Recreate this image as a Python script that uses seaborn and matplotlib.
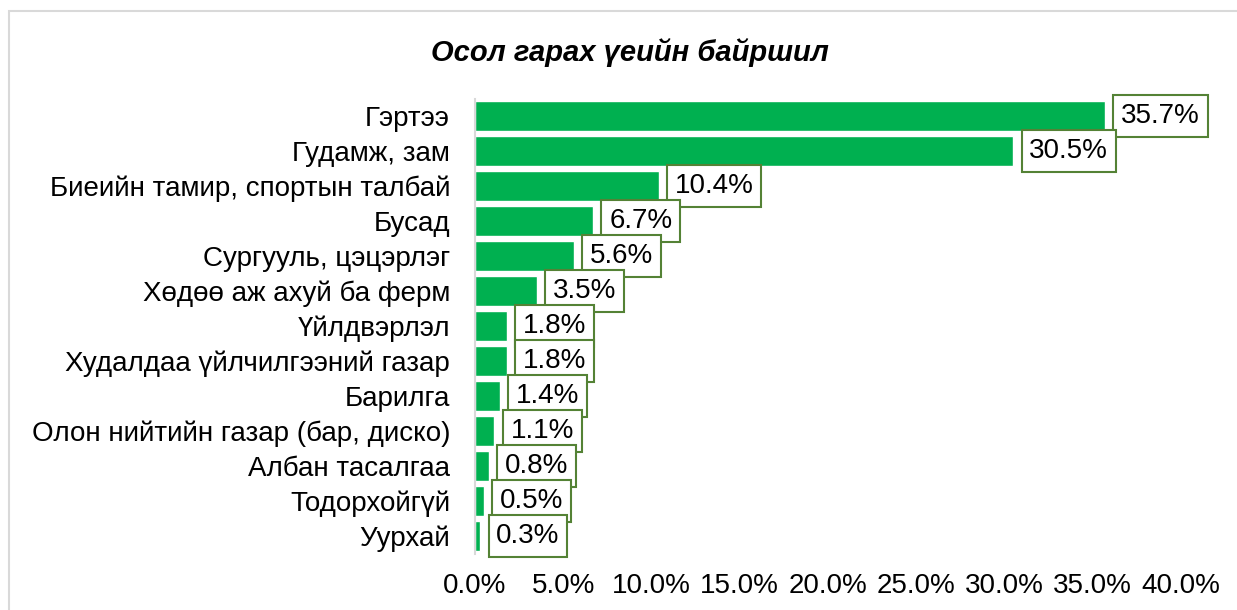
import matplotlib
matplotlib.use("Agg")
import matplotlib.pyplot as plt
import seaborn as sns
import pandas as pd
from matplotlib.patches import Rectangle
from matplotlib.ticker import FuncFormatter, MultipleLocator

categories = ["Гэртээ", "Гудамж, зам", "Биеийн тамир, спортын талбай", "Бусад",
              "Сургууль, цэцэрлэг", "Хөдөө аж ахуй ба ферм", "Үйлдвэрлэл",
              "Худалдаа үйлчилгээний газар", "Барилга", "Олон нийтийн газар (бар, диско)",
              "Албан тасалгаа", "Тодорхойгүй", "Уурхай"]
values = [35.7, 30.5, 10.4, 6.7, 5.6, 3.5, 1.8, 1.8, 1.4, 1.1, 0.8, 0.5, 0.3]
title = "Осол гарах үеийн байршил"

sns.set_style("white")
plt.rcParams['font.family'] = ['Liberation Sans', 'DejaVu Sans']
plt.rcParams['text.color'] = 'black'
plt.rcParams['xtick.color'] = 'black'
plt.rcParams['ytick.color'] = 'black'

df = pd.DataFrame({"cat": categories, "val": values})

fig = plt.figure(figsize=(12.37, 6.10), dpi=100)
ax = fig.add_axes([0.384, 0.0926, 0.5707, 0.7459])

sns.barplot(data=df, x="val", y="cat", orient="h", color="#00B050",
            saturation=1, width=0.88, ax=ax)

ax.set_xlim(0, 40)
ax.xaxis.set_major_locator(MultipleLocator(5))
ax.xaxis.set_major_formatter(FuncFormatter(lambda v, p: f"{v:.1f}%"))
ax.set_xlabel("")
ax.set_ylabel("")
ax.tick_params(axis="y", length=0, pad=18, labelsize=20, labelcolor="black")
ax.tick_params(axis="x", length=0, pad=14, labelsize=20, labelcolor="black")
for s in ["top", "right", "bottom"]:
    ax.spines[s].set_visible(False)
ax.spines["left"].set_color("#d9d9d9")
ax.spines["left"].set_linewidth(1.5)

for i, v in enumerate(values):
    ax.annotate(f"{v}%", xy=(v, i), xytext=(16, 0), textcoords="offset pixels",
                ha="left", va="center", fontsize=20, color="black",
                bbox=dict(boxstyle="square,pad=0.28", fc="white", ec="#548235", lw=1.5))

fig.text(0.509, 0.914, title, ha="center", va="center", fontsize=21,
         fontweight="bold", fontstyle="italic", color="black")

fig.patches.append(Rectangle((9 / 1237, -0.1), 1.2, 1 - 11 / 610 + 0.1,
                             transform=fig.transFigure, fill=False,
                             ec="#d9d9d9", lw=1.5))

fig.savefig("out.png", dpi=100)
